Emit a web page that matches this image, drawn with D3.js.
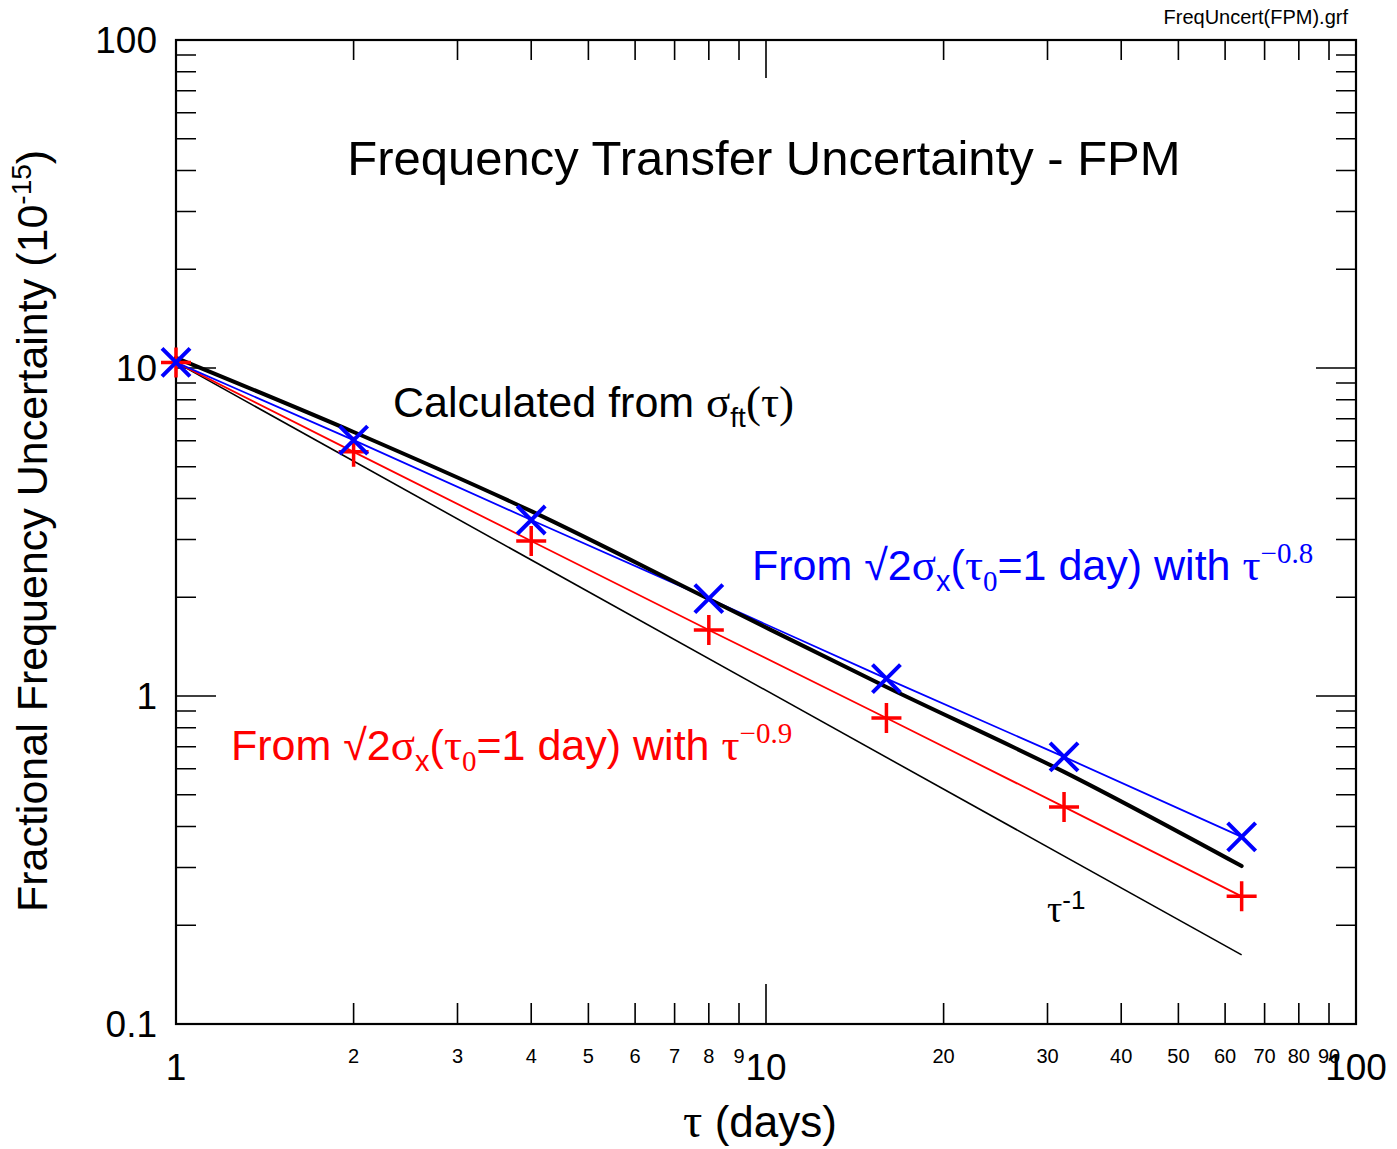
<!DOCTYPE html>
<html>
<head>
<meta charset="utf-8">
<script src="https://cdn.jsdelivr.net/npm/d3@7"></script>
<style>
  body { margin: 0; background: #fff; }
  text { font-family: "Liberation Sans", Arial, sans-serif; }
  .greek { font-family: "Liberation Serif", "Times New Roman", serif; }
</style>
</head>
<body>
<div id="chart"></div>
<script>
// data
const tau = [1, 2, 4, 8, 16, 32, 64];
const calculated = [10.74, 6.38, 3.66, 1.975, 1.065, 0.587, 0.303];
const fromTau08 = [10.4, 6.03, 3.44, 1.98, 1.13, 0.652, 0.372];
const fromTau09 = [10.4, 5.55, 2.97, 1.59, 0.857, 0.459, 0.245];
const refTau = [1, 64];
const refValues = [10.4, 0.1625];

const yMajorTicks = [0.1, 1, 10, 100];
const yMajorLabels = ["0.1", "1", "10", "100"];
const xMajorTicks = [1, 10, 100];
const xMinorTicks = [2, 3, 4, 5, 6, 7, 8, 9, 20, 30, 40, 50, 60, 70, 80, 90];

const width = 1397;
const height = 1149;
const margin = { left: 176, right: 41, top: 40, bottom: 125 };

const svg = d3.select("#chart")
	.append("svg")
		.attr("width", width)
		.attr("height", height);

const x = d3.scaleLog()
	.domain([1, 100])
	.range([margin.left, width - margin.right]);

const y = d3.scaleLog()
	.domain([0.1, 100])
	.range([height - margin.bottom, margin.top]);

const x0 = x.range()[0], x1 = x.range()[1];
const y0 = y.range()[0], y1 = y.range()[1];

// minor ticks for every decade
const yMinor = [];
[0.1, 1, 10].forEach((d) => {
	for (let k = 2; k <= 9; k++) yMinor.push(d * k);
});

// ticks
const ticks = svg.append("g").attr("stroke", "#000").attr("stroke-width", 1.6);

ticks.selectAll(".xmin").data(xMinorTicks).enter()
	.append("path")
	.attr("d", (d) => `M${x(d)},${y0}v-21M${x(d)},${y1}v20`);

ticks.selectAll(".xmaj").data(xMajorTicks).enter()
	.append("path")
	.attr("d", (d) => `M${x(d)},${y0}v-40M${x(d)},${y1}v38`);

ticks.selectAll(".ymin").data(yMinor).enter()
	.append("path")
	.attr("d", (d) => `M${x0},${y(d)}h20M${x1},${y(d)}h-20`);

ticks.selectAll(".ymaj").data(yMajorTicks).enter()
	.append("path")
	.attr("d", (d) => `M${x0},${y(d)}h40M${x1},${y(d)}h-40`);

// frame
svg.append("rect")
	.attr("x", x0)
	.attr("y", y1)
	.attr("width", x1 - x0)
	.attr("height", y0 - y1)
	.attr("fill", "none")
	.attr("stroke", "#000")
	.attr("stroke-width", 2.2);

// tick labels
svg.selectAll(".ylab").data(yMajorTicks).enter()
	.append("text")
	.attr("x", 157)
	.attr("y", (d) => y(d) + 13)
	.attr("text-anchor", "end")
	.attr("font-size", 37)
	.text((d, i) => yMajorLabels[i]);

svg.selectAll(".xlab").data(xMajorTicks).enter()
	.append("text")
	.attr("x", (d) => x(d))
	.attr("y", 1080)
	.attr("text-anchor", "middle")
	.attr("font-size", 37)
	.text((d) => d);

svg.selectAll(".xminlab").data(xMinorTicks).enter()
	.append("text")
	.attr("x", (d) => x(d))
	.attr("y", 1063)
	.attr("text-anchor", "middle")
	.attr("font-size", 20)
	.text((d) => d);

// lines
const line = d3.line()
	.x((d) => x(d[0]))
	.y((d) => y(d[1]));

svg.append("path")
	.datum(d3.zip(refTau, refValues))
	.attr("d", line)
	.attr("fill", "none")
	.attr("stroke", "#000")
	.attr("stroke-width", 1.6);

svg.append("path")
	.datum(d3.zip(tau, fromTau09))
	.attr("d", line)
	.attr("fill", "none")
	.attr("stroke", "#ff0000")
	.attr("stroke-width", 1.8);

svg.append("path")
	.datum(d3.zip(tau, fromTau08))
	.attr("d", line)
	.attr("fill", "none")
	.attr("stroke", "#0000ff")
	.attr("stroke-width", 1.8);

svg.append("path")
	.datum(d3.zip(tau, calculated))
	.attr("d", d3.line().x((d) => x(d[0])).y((d) => y(d[1])).curve(d3.curveMonotoneX))
	.attr("fill", "none")
	.attr("stroke", "#000")
	.attr("stroke-width", 4)
	.attr("stroke-linecap", "round");

// markers
const s = 14;
svg.selectAll(".plus").data(d3.zip(tau, fromTau09)).enter()
	.append("path")
	.attr("d", (d) => `M${x(d[0]) - s - 1},${y(d[1])}h${2 * s + 2}M${x(d[0])},${y(d[1]) - s - 1}v${2 * s + 2}`)
	.attr("stroke", "#ff0000")
	.attr("stroke-width", 3.5);

svg.selectAll(".cross").data(d3.zip(tau, fromTau08)).enter()
	.append("path")
	.attr("d", (d) => `M${x(d[0]) - s},${y(d[1]) - s}l${2 * s},${2 * s}M${x(d[0]) - s},${y(d[1]) + s}l${2 * s},${-2 * s}`)
	.attr("stroke", "#0000ff")
	.attr("stroke-width", 4);

// texts
svg.append("text")
	.attr("x", 1348)
	.attr("y", 24)
	.attr("text-anchor", "end")
	.attr("font-size", 20)
	.text("FreqUncert(FPM).grf");

svg.append("text")
	.attr("x", 764)
	.attr("y", 175)
	.attr("text-anchor", "middle")
	.attr("font-size", 49)
	.text("Frequency Transfer Uncertainty - FPM");

const calc = svg.append("text")
	.attr("x", 393)
	.attr("y", 417)
	.attr("font-size", 43);
calc.append("tspan").text("Calculated from ");
calc.append("tspan").attr("class", "greek").attr("font-size", 45).text("σ");
calc.append("tspan").attr("font-size", 28).attr("dy", 10).text("ft");
calc.append("tspan").attr("class", "greek").attr("font-size", 45).attr("dy", -10).text("(τ)");

function fromLabel(xPos, yPos, color, exp) {
	const t = svg.append("text")
		.attr("x", xPos)
		.attr("y", yPos)
		.attr("font-size", 43)
		.attr("fill", color);
	t.append("tspan").text("From √2");
	t.append("tspan").attr("class", "greek").attr("font-size", 45).text("σ");
	t.append("tspan").attr("font-size", 29).attr("dy", 11).text("x");
	t.append("tspan").attr("dy", -11).text("(");
	t.append("tspan").attr("class", "greek").attr("font-size", 45).text("τ");
	t.append("tspan").attr("class", "greek").attr("font-size", 29).attr("dy", 11).text("0");
	t.append("tspan").attr("dy", -11).text("=1 day) with ");
	t.append("tspan").attr("class", "greek").attr("font-size", 45).text("τ");
	t.append("tspan").attr("class", "greek").attr("font-size", 29).attr("dy", -17).text(exp);
}

fromLabel(752, 580, "#0000ff", "−0.8");
fromLabel(231, 760, "#ff0000", "−0.9");

const tinv = svg.append("text")
	.attr("x", 1047)
	.attr("y", 922)
	.attr("font-size", 34);
tinv.append("tspan").attr("class", "greek").attr("font-size", 38).text("τ");
tinv.append("tspan").attr("font-size", 26).attr("dy", -13).text("-1");

// axis titles
const xt = svg.append("text")
	.attr("x", 760)
	.attr("y", 1137)
	.attr("text-anchor", "middle")
	.attr("font-size", 44);
xt.append("tspan").attr("class", "greek").attr("font-size", 48).text("τ");
xt.append("tspan").text(" (days)");

const yt = svg.append("text")
	.attr("transform", `translate(47, 531) rotate(-90)`)
	.attr("text-anchor", "middle")
	.attr("font-size", 43);
yt.append("tspan").text("Fractional Frequency Uncertainty (10");
yt.append("tspan").attr("font-size", 28).attr("dy", -16).text("-15");
yt.append("tspan").attr("dy", 16).text(")");
</script>
</body>
</html>
